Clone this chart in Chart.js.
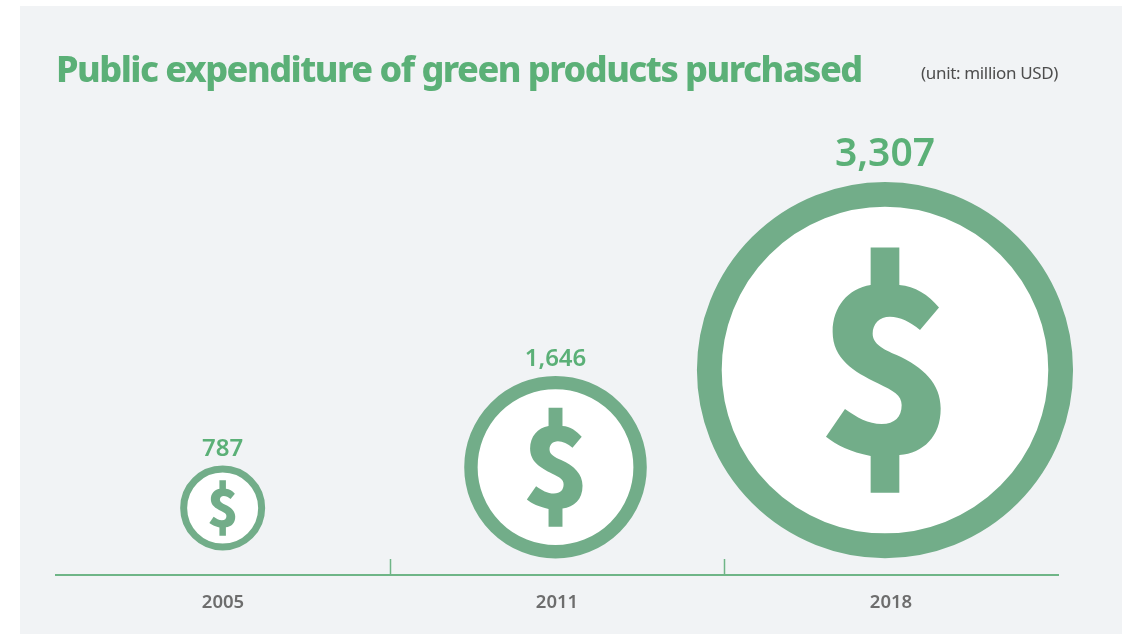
<!DOCTYPE html>
<html>
<head>
<meta charset="utf-8">
<style>
  html, body { margin: 0; padding: 0; background: #ffffff; }
  #panel { position: absolute; left: 20px; top: 6px; width: 1102px; height: 628px; background: #f1f3f5; }
  #chart { position: absolute; left: 0; top: 0; }
</style>
<script src="https://cdn.jsdelivr.net/npm/chart.js@4"></script>
</head>
<body>
<div id="panel"></div>
<canvas id="chart" width="1122" height="634"></canvas>
<script>
const titleText = 'Public expenditure of green products purchased';
const unitText = '(unit: million USD)';
const years = ['2005', '2011', '2018'];
const spending = [787, 1646, 3307];
const spendingLabels = ['787', '1,646', '3,307'];

const RING = '#72ad89';
const GREEN_TEXT = '#5bb077';
const AXIS = '#6fb587';
const GREY_TEXT = '#6d6d6d';
const FONT = '"Noto Sans", sans-serif';

// Outer radius grows slightly faster than the amount itself.
const outerRadius = v => 42.5 * Math.pow(v / 787, 1.036);
const ringWidth = v => 7 * Math.pow(outerRadius(v) / 42.5, 0.85);
// Larger amounts sit progressively higher above the baseline.
const lift = v => Math.pow(v, 1.29);
// Big circles are pulled inward so they stay clear of the right margin.
const inset = v => 0.018 * Math.pow(v / 3307, 2);

const points = spending.map((v, i) => ({
  x: i - inset(v),
  y: lift(v),
  r: outerRadius(v) - ringWidth(v) / 2,
  amount: v
}));

// Dollar icon outline, centred on the origin; 564 units equal one outer radius.
const DOLLAR_UNITS = 564;
const dollarIcon = new Path2D(
  'M43 -368 V-255 C90 -252 130 -225 162 -188 L105 -120 C75 -145 45 -160 15 -160 ' +
  'C-17 -160 -37 -138 -37 -110 C-37 -78 -5 -63 35 -45 C115 -8 167 40 167 115 ' +
  'C167 200 115 248 43 255 V368 H-43 V258 C-105 245 -145 225 -177 200 L-120 117 ' +
  'C-85 142 -50 162 -10 162 C30 162 50 140 50 105 C50 75 25 62 -20 40 ' +
  'C-95 5 -157 -35 -157 -115 C-157 -190 -110 -245 -43 -255 V-368 Z'
);

// Heading and unit note share one line above the plot, set with tight tracking.
const headerLine = {
  id: 'headerLine',
  afterDraw(chart) {
    const { ctx } = chart;
    ctx.save();
    ctx.textBaseline = 'middle';
    ctx.fillStyle = GREEN_TEXT;
    ctx.font = `800 36px ${FONT}`;
    ctx.letterSpacing = '-1.5px';
    ctx.textAlign = 'left';
    ctx.fillText(titleText, 56, 72);
    ctx.fillStyle = '#4d4d4d';
    ctx.font = `400 17px ${FONT}`;
    ctx.letterSpacing = '-0.35px';
    ctx.textAlign = 'right';
    ctx.fillText(unitText, 1058, 74);
    ctx.restore();
  }
};

const circleContents = {
  id: 'circleContents',
  afterDatasetsDraw(chart) {
    const { ctx } = chart;
    chart.getDatasetMeta(0).data.forEach((el, i) => {
      const v = spending[i];
      const R = outerRadius(v);
      const k = R / DOLLAR_UNITS;
      ctx.save();
      ctx.translate(el.x, el.y);
      ctx.scale(k, k);
      ctx.fillStyle = RING;
      ctx.fill(dollarIcon);
      ctx.restore();

      const size = v > 2000 ? 39 : 24;
      ctx.save();
      ctx.fillStyle = GREEN_TEXT;
      ctx.font = `600 ${size}px ${FONT}`;
      ctx.textAlign = 'center';
      ctx.textBaseline = 'middle';
      ctx.fillText(spendingLabels[i], el.x, el.y - R - size * 0.7);
      ctx.restore();
    });
  }
};

new Chart(document.getElementById('chart'), {
  type: 'bubble',
  data: {
    labels: years,
    datasets: [{
      data: points,
      xAxisID: 'slot',
      yAxisID: 'y',
      clip: false,
      backgroundColor: '#ffffff',
      borderColor: RING,
      hoverBackgroundColor: '#ffffff',
      hoverBorderColor: RING,
      borderWidth: ctx => ringWidth(ctx.raw.amount),
      hoverBorderWidth: ctx => ringWidth(ctx.raw.amount)
    }]
  },
  options: {
    responsive: false,
    animation: false,
    events: [],
    layout: {
      autoPadding: false,
      padding: { left: 56, right: 64, top: 121, bottom: 20 }
    },
    plugins: {
      legend: { display: false },
      tooltip: { enabled: false }
    },
    scales: {
      x: {
        type: 'category',
        position: 'bottom',
        offset: true,
        afterFit: scale => { scale.height = 39; },
        border: { color: AXIS, width: 2 },
        grid: {
          offset: true,
          drawOnChartArea: false,
          tickLength: -16,
          tickWidth: 1.5,
          // Dividers only between years, none at the two ends of the axis.
          tickColor: ctx => (ctx.type === 'tick' && ctx.index > 0) ? AXIS : 'rgba(0,0,0,0)'
        },
        ticks: {
          color: GREY_TEXT,
          padding: 33,
          maxRotation: 0,
          font: { family: FONT, size: 18.5, weight: '600' }
        }
      },
      slot: { type: 'linear', display: false, position: 'bottom', min: -0.5, max: 2.5 },
      y: { type: 'linear', display: false, min: -8750, max: 87470 }
    }
  },
  plugins: [circleContents, headerLine]
});
</script>
</body>
</html>
